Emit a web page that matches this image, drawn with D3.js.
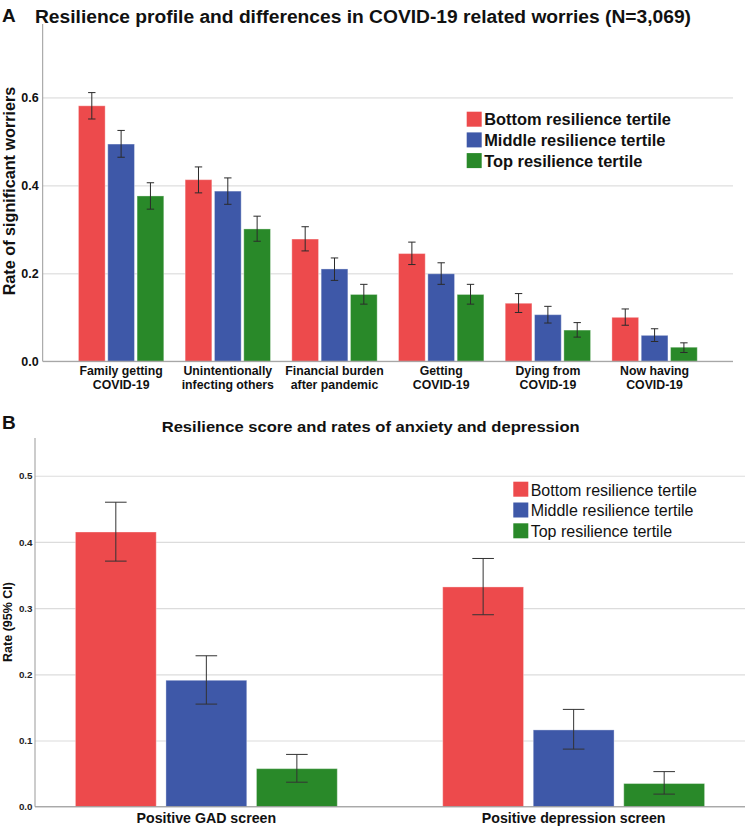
<!DOCTYPE html>
<html>
<head>
<meta charset="utf-8">
<script src="https://cdn.jsdelivr.net/npm/d3@7"></script>
<style>
  html, body { margin: 0; padding: 0; background: #fff; }
  svg { display: block; font-family: "Liberation Sans", Arial, sans-serif; }
</style>
</head>
<body>
<svg id="chart" width="747" height="826"></svg>
<script>
// ---------- Panel A data ----------
const categoriesA = [
  ["Family getting", "COVID-19"],
  ["Unintentionally", "infecting others"],
  ["Financial burden", "after pandemic"],
  ["Getting", "COVID-19"],
  ["Dying from", "COVID-19"],
  ["Now having", "COVID-19"]
];
const seriesNames = ["Bottom resilience tertile", "Middle resilience tertile", "Top resilience tertile"];
const seriesColors = ["#ED4A4C", "#3E58A8", "#298929"];

const bottomA = [0.581, 0.413, 0.278, 0.245, 0.132, 0.100];
const bottomA_lo = [0.551, 0.383, 0.251, 0.220, 0.111, 0.082];
const bottomA_hi = [0.611, 0.442, 0.306, 0.271, 0.154, 0.119];
const middleA = [0.494, 0.387, 0.210, 0.199, 0.106, 0.059];
const middleA_lo = [0.464, 0.357, 0.184, 0.175, 0.087, 0.045];
const middleA_hi = [0.525, 0.417, 0.235, 0.224, 0.125, 0.074];
const topA = [0.376, 0.301, 0.152, 0.152, 0.071, 0.032];
const topA_lo = [0.346, 0.273, 0.130, 0.130, 0.055, 0.020];
const topA_hi = [0.406, 0.330, 0.175, 0.175, 0.088, 0.042];
const ticksA = [0.0, 0.2, 0.4, 0.6];

// ---------- Panel B data ----------
const categoriesB = ["Positive GAD screen", "Positive depression screen"];
const bottomB = [0.415, 0.332];
const bottomB_lo = [0.371, 0.290];
const bottomB_hi = [0.460, 0.375];
const middleB = [0.191, 0.116];
const middleB_lo = [0.155, 0.087];
const middleB_hi = [0.228, 0.147];
const topB = [0.0575, 0.035];
const topB_lo = [0.037, 0.019];
const topB_hi = [0.079, 0.053];
const ticksB = [0.0, 0.1, 0.2, 0.3, 0.4, 0.5];

const svg = d3.select("#chart");
const FONT = '"Liberation Sans", Arial, sans-serif';

function buildRows(cats, vals, lo, hi) {
  const rows = [];
  cats.forEach((c, i) => {
    seriesNames.forEach((s, j) => {
      rows.push({ cat: i, series: s, color: seriesColors[j], v: vals[j][i], lo: lo[j][i], hi: hi[j][i] });
    });
  });
  return rows;
}

// ================= PANEL A =================
(function () {
  const left = 42.7, right = 733, top = 24, bottom = 361.3;
  const y = d3.scaleLinear().domain([0, 0.767]).range([bottom, top]);
  const x0 = d3.scaleBand().domain(d3.range(categoriesA.length)).range([left, right])
    .paddingInner(0.2).paddingOuter(0.335);
  const x1 = d3.scaleBand().domain(seriesNames).range([0, x0.bandwidth()]).paddingInner(0.089).paddingOuter(0);

  const g = svg.append("g");

  const axis = d3.axisLeft(y).tickValues(ticksA).tickFormat(d3.format(".1f"))
    .tickSizeInner(-(right - left)).tickSizeOuter(0).tickPadding(4);
  const ag = g.append("g").attr("transform", `translate(${left},0)`).call(axis);
  ag.select(".domain").remove();
  ag.selectAll(".tick line").attr("stroke", "#d6d6d6").attr("stroke-width", 1);
  ag.selectAll(".tick text").attr("font-family", FONT).attr("font-size", 12.5).attr("font-weight", "bold").attr("fill", "#111");

  const rows = buildRows(categoriesA, [bottomA, middleA, topA], [bottomA_lo, middleA_lo, topA_lo], [bottomA_hi, middleA_hi, topA_hi]);
  g.selectAll("rect.barA").data(rows).enter().append("rect")
    .attr("class", "barA")
    .attr("x", d => x0(d.cat) + x1(d.series))
    .attr("width", x1.bandwidth())
    .attr("y", d => y(d.v))
    .attr("height", d => y(0) - y(d.v))
    .attr("fill", d => d.color)
    .attr("stroke", "rgba(255,255,255,0.35)")
    .attr("stroke-width", 1);

  const cap = 3.7;
  const eb = g.selectAll("g.ebA").data(rows).enter().append("g").attr("class", "ebA")
    .attr("stroke", "#2b2b2b").attr("stroke-width", 1);
  eb.append("line")
    .attr("x1", d => x0(d.cat) + x1(d.series) + x1.bandwidth() / 2)
    .attr("x2", d => x0(d.cat) + x1(d.series) + x1.bandwidth() / 2)
    .attr("y1", d => y(d.lo)).attr("y2", d => y(d.hi));
  eb.append("line")
    .attr("x1", d => x0(d.cat) + x1(d.series) + x1.bandwidth() / 2 - cap)
    .attr("x2", d => x0(d.cat) + x1(d.series) + x1.bandwidth() / 2 + cap)
    .attr("y1", d => y(d.hi)).attr("y2", d => y(d.hi));
  eb.append("line")
    .attr("x1", d => x0(d.cat) + x1(d.series) + x1.bandwidth() / 2 - cap)
    .attr("x2", d => x0(d.cat) + x1(d.series) + x1.bandwidth() / 2 + cap)
    .attr("y1", d => y(d.lo)).attr("y2", d => y(d.lo));

  g.append("line").attr("x1", left).attr("x2", left).attr("y1", top).attr("y2", bottom)
    .attr("stroke", "#999").attr("stroke-width", 1);
  g.append("line").attr("x1", left).attr("x2", right).attr("y1", bottom).attr("y2", bottom)
    .attr("stroke", "#999").attr("stroke-width", 1);

  const lab = g.selectAll("text.catA").data(categoriesA).enter().append("text")
    .attr("class", "catA")
    .attr("text-anchor", "middle")
    .attr("font-family", FONT).attr("font-size", 12.3).attr("font-weight", "bold").attr("fill", "#111");
  lab.each(function (d, i) {
    const t = d3.select(this);
    d.forEach((line, k) => {
      t.append("tspan").attr("x", x0(i) + x0.bandwidth() / 2).attr("y", 375 + k * 13.5).text(line);
    });
  });

  g.append("text")
    .attr("transform", `translate(14.5,${191}) rotate(-90)`)
    .attr("text-anchor", "middle")
    .attr("font-family", FONT).attr("font-size", 16.2).attr("font-weight", "bold").attr("fill", "#111")
    .text("Rate of significant worriers");

  g.append("text").attr("x", 2).attr("y", 22).attr("font-family", FONT).attr("font-size", 19)
    .attr("font-weight", "bold").attr("fill", "#111").text("A");
  g.append("text").attr("x", 35).attr("y", 22.7).attr("font-family", FONT).attr("font-size", 17.5)
    .attr("font-weight", "bold").attr("fill", "#111")
    .attr("textLength", 656).attr("lengthAdjust", "spacingAndGlyphs")
    .text("Resilience profile and differences in COVID-19 related worries (N=3,069)");

  const lg = g.append("g").attr("transform", "translate(466.7,111.7)");
  seriesNames.forEach((s, j) => {
    lg.append("rect").attr("x", 0).attr("y", j * 20.7).attr("width", 15).attr("height", 15).attr("fill", seriesColors[j]);
    lg.append("text").attr("x", 17.5).attr("y", j * 20.7 + 13.5)
      .attr("font-family", FONT).attr("font-size", 16.4).attr("font-weight", "bold").attr("fill", "#111").text(s);
  });
})();

// ================= PANEL B =================
(function () {
  const left = 35, right = 745, top = 438, bottom = 806.7;
  const y = d3.scaleLinear().domain([0, 0.557]).range([bottom, top]);
  const x0 = d3.scaleBand().domain(d3.range(categoriesB.length)).range([left, right])
    .paddingInner(0.287).paddingOuter(0.11);
  const x1 = d3.scaleBand().domain(seriesNames).range([0, x0.bandwidth()]).paddingInner(0.107).paddingOuter(0);

  const g = svg.append("g");

  const axis = d3.axisLeft(y).tickValues(ticksB).tickFormat(d3.format(".1f"))
    .tickSizeInner(-(right - left)).tickSizeOuter(0).tickPadding(2.5);
  const ag = g.append("g").attr("transform", `translate(${left},0)`).call(axis);
  ag.select(".domain").remove();
  ag.selectAll(".tick line").attr("stroke", "#dcdcdc").attr("stroke-width", 1.2);
  ag.selectAll(".tick text").attr("font-family", FONT).attr("font-size", 9.8).attr("font-weight", "bold").attr("fill", "#222");

  const rows = buildRows(categoriesB, [bottomB, middleB, topB], [bottomB_lo, middleB_lo, topB_lo], [bottomB_hi, middleB_hi, topB_hi]);
  g.selectAll("rect.barB").data(rows).enter().append("rect")
    .attr("class", "barB")
    .attr("x", d => x0(d.cat) + x1(d.series))
    .attr("width", x1.bandwidth())
    .attr("y", d => y(d.v))
    .attr("height", d => y(0) - y(d.v))
    .attr("fill", d => d.color)
    .attr("stroke", "rgba(255,255,255,0.35)")
    .attr("stroke-width", 1);

  const cap = 10.8;
  const eb = g.selectAll("g.ebB").data(rows).enter().append("g").attr("class", "ebB")
    .attr("stroke", "#333").attr("stroke-width", 1);
  eb.append("line")
    .attr("x1", d => x0(d.cat) + x1(d.series) + x1.bandwidth() / 2)
    .attr("x2", d => x0(d.cat) + x1(d.series) + x1.bandwidth() / 2)
    .attr("y1", d => y(d.lo)).attr("y2", d => y(d.hi));
  eb.append("line")
    .attr("x1", d => x0(d.cat) + x1(d.series) + x1.bandwidth() / 2 - cap)
    .attr("x2", d => x0(d.cat) + x1(d.series) + x1.bandwidth() / 2 + cap)
    .attr("y1", d => y(d.hi)).attr("y2", d => y(d.hi));
  eb.append("line")
    .attr("x1", d => x0(d.cat) + x1(d.series) + x1.bandwidth() / 2 - cap)
    .attr("x2", d => x0(d.cat) + x1(d.series) + x1.bandwidth() / 2 + cap)
    .attr("y1", d => y(d.lo)).attr("y2", d => y(d.lo));

  g.append("line").attr("x1", left).attr("x2", left).attr("y1", top).attr("y2", bottom)
    .attr("stroke", "#999").attr("stroke-width", 1);
  g.append("line").attr("x1", left).attr("x2", right).attr("y1", bottom).attr("y2", bottom)
    .attr("stroke", "#999").attr("stroke-width", 1);

  g.selectAll("text.catB").data(categoriesB).enter().append("text")
    .attr("class", "catB")
    .attr("x", (d, i) => x0(i) + x0.bandwidth() / 2)
    .attr("y", 823)
    .attr("text-anchor", "middle")
    .attr("font-family", FONT).attr("font-size", 14.2).attr("font-weight", "bold").attr("fill", "#111")
    .text(d => d);

  g.append("text")
    .attr("transform", `translate(11.5,622) rotate(-90)`)
    .attr("text-anchor", "middle")
    .attr("font-family", FONT).attr("font-size", 12.5).attr("font-weight", "bold").attr("fill", "#111")
    .text("Rate (95% CI)");

  g.append("text").attr("x", 2).attr("y", 428.5).attr("font-family", FONT).attr("font-size", 19)
    .attr("font-weight", "bold").attr("fill", "#111").text("B");
  g.append("text").attr("x", 161.7).attr("y", 431.5).attr("font-family", FONT).attr("font-size", 15.5)
    .attr("font-weight", "bold").attr("fill", "#111")
    .attr("textLength", 418).attr("lengthAdjust", "spacingAndGlyphs")
    .text("Resilience score and rates of anxiety and depression");

  const lg = g.append("g").attr("transform", "translate(513.3,481.7)");
  seriesNames.forEach((s, j) => {
    lg.append("rect").attr("x", 0).attr("y", j * 20.8).attr("width", 15).attr("height", 15).attr("fill", seriesColors[j]);
    lg.append("text").attr("x", 17.4).attr("y", j * 20.8 + 14)
      .attr("font-family", FONT).attr("font-size", 16).attr("fill", "#111").text(s);
  });
})();
</script>
</body>
</html>
